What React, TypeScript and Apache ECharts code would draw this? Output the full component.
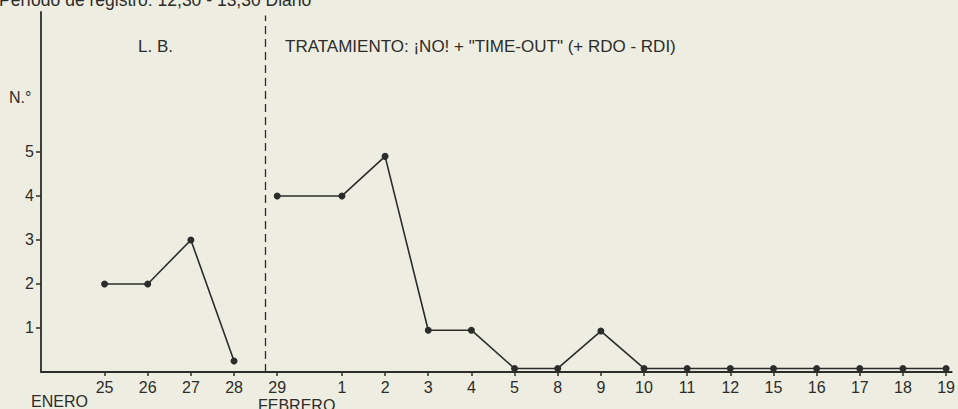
import React, { useEffect, useRef } from "react";
import * as echarts from "echarts";

// Session dates (January 25–29, then February)
const xLabels = ["25", "26", "27", "28", "29", "1", "2", "3", "4", "5", "8", "9", "10", "11", "12", "15", "16", "17", "18", "19"];
// Axis positions of each date (a half-step gap where the month changes)
const xPositions = [0, 1, 2, 3, 4, 5.5, 6.5, 7.5, 8.5, 9.5, 10.5, 11.5, 12.5, 13.5, 14.5, 15.5, 16.5, 17.5, 18.5, 19.5];
// Línea base (L. B.)
const baselineValues: (number | null)[] = [2, 2, 3, 0.25, null, null, null, null, null, null, null, null, null, null, null, null, null, null, null, null];
// Tratamiento
const treatmentValues: (number | null)[] = [null, null, null, null, 4, 4, 4.9, 0.95, 0.95, 0.08, 0.08, 0.93, 0.08, 0.08, 0.08, 0.08, 0.08, 0.08, 0.08, 0.08];
const yTicks = [1, 2, 3, 4, 5];
const phaseChangeAt = 3.73;

const FONT = "'Liberation Sans', Arial, Helvetica, sans-serif";
const INK = "#2c2c2a";

function toPairs(vals: (number | null)[]) {
  const out: [number, number][] = [];
  vals.forEach((v, i) => {
    if (v !== null) out.push([xPositions[i], v]);
  });
  return out;
}

export default function App() {
  const ref = useRef<HTMLDivElement>(null);
  useEffect(() => {
    if (!ref.current) return;
    const chart = echarts.init(ref.current, null, { renderer: "svg" });
    const lineSeries = (name: string, vals: (number | null)[], extra: any = {}) => ({
      name,
      type: "line",
      data: toPairs(vals),
      symbol: "circle",
      symbolSize: 7,
      lineStyle: { color: INK, width: 1.6 },
      itemStyle: { color: INK },
      ...extra,
    });
    chart.setOption({
      animation: false,
      backgroundColor: "#eeede1",
      textStyle: { fontFamily: FONT },
      grid: { left: 41, right: 0, top: 12, bottom: 37 },
      xAxis: {
        type: "value",
        min: -1.473,
        max: 19.63,
        splitLine: { show: false },
        axisLine: { show: true, onZero: false, lineStyle: { color: INK, width: 1.8 } },
        axisTick: { show: true, length: 4, customValues: xPositions, lineStyle: { color: INK, width: 1.5 } },
        axisLabel: {
          customValues: xPositions,
          margin: 7,
          color: INK,
          fontSize: 16,
          fontFamily: FONT,
          formatter: (v: number) => {
            const i = xPositions.findIndex((p) => Math.abs(p - v) < 1e-6);
            return i >= 0 ? xLabels[i] : "";
          },
        },
      },
      yAxis: {
        type: "value",
        min: 0,
        max: 8.18,
        splitLine: { show: false },
        axisLine: { show: true, onZero: false, lineStyle: { color: INK, width: 1.8 } },
        axisTick: { show: true, length: 5, customValues: yTicks, lineStyle: { color: INK, width: 1.5 } },
        axisLabel: {
          customValues: yTicks,
          margin: 7,
          color: INK,
          fontSize: 16,
          fontFamily: FONT,
          verticalAlign: "middle",
          padding: [0, 0, 8, 0],
        },
      },
      series: [
        lineSeries("L. B.", baselineValues),
        lineSeries("Tratamiento", treatmentValues, {
          markLine: {
            silent: true,
            symbol: ["none", "none"],
            label: { show: false },
            lineStyle: { color: INK, width: 1.3, type: [8, 5] },
            data: [[{ coord: [phaseChangeAt, 0] }, { coord: [phaseChangeAt, 8.1] }]],
          },
        }),
      ],
      graphic: [
        {
          type: "text",
          left: -1,
          top: -9,
          style: { text: "Período de registro: 12,30 - 13,30 Diario", fill: INK, fontSize: 17.5, fontFamily: FONT },
        },
        {
          type: "text",
          left: 138,
          top: 38,
          style: { text: "L. B.", fill: INK, fontSize: 17, fontFamily: FONT },
        },
        {
          type: "text",
          left: 285,
          top: 38,
          style: { text: 'TRATAMIENTO: ¡NO! + "TIME-OUT" (+ RDO - RDI)', fill: INK, fontSize: 17, fontFamily: FONT },
        },
        {
          type: "text",
          left: 9,
          top: 89,
          style: { text: "N.°", fill: INK, fontSize: 16, fontFamily: FONT },
        },
        {
          type: "text",
          left: 31,
          top: 393,
          style: { text: "ENERO", fill: INK, fontSize: 16, fontFamily: FONT },
        },
        {
          type: "text",
          left: 258,
          top: 397,
          style: { text: "FEBRERO", fill: INK, fontSize: 16, fontFamily: FONT },
        },
      ],
    });
    return () => chart.dispose();
  }, []);
  return (
    <div
      ref={ref}
      style={{ position: "fixed", left: 0, top: 0, width: 958, height: 409, background: "#eeede1" }}
    />
  );
}
